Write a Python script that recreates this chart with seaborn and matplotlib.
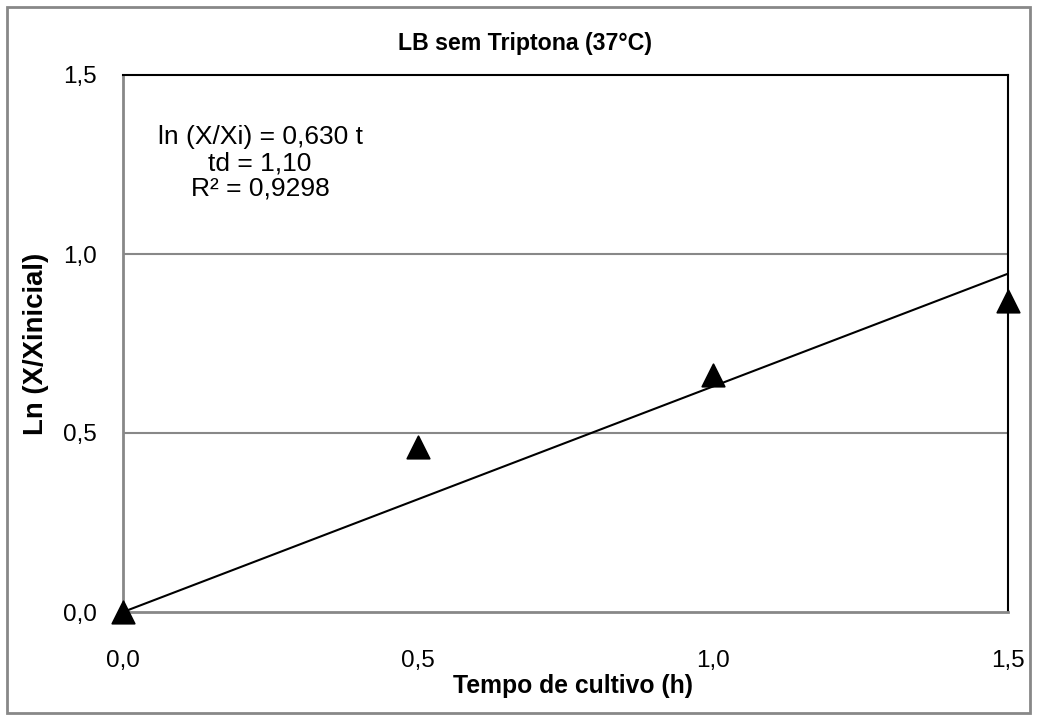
import matplotlib
matplotlib.use("Agg")
import matplotlib.pyplot as plt
import seaborn as sns
import pandas as pd
from matplotlib.patches import Rectangle

# Data
tempo = [0.0, 0.5, 1.0, 1.5]
ln_x = [0.0, 0.46, 0.662, 0.868]
slope = 0.630
trend_x = [0.0, 1.5]
trend_y = [slope * t for t in trend_x]
ticks = [0.0, 0.5, 1.0, 1.5]
tick_labels = ["0,0", "0,5", "1,0", "1,5"]

sns.set_theme(style="white")
plt.rcParams['font.family'] = ['Liberation Sans', 'DejaVu Sans']
plt.rcParams['text.color'] = 'black'
plt.rcParams['axes.labelcolor'] = 'black'

fig = plt.figure(figsize=(10.37, 7.2), dpi=100)
ax = fig.add_axes([123/1037, 1 - 612/720, (1008-123)/1037, (612-75)/720])

df = pd.DataFrame({"t": tempo, "y": ln_x})
tdf = pd.DataFrame({"t": trend_x, "y": trend_y})

sns.lineplot(data=tdf, x="t", y="y", ax=ax, color="black", linewidth=1.5, zorder=3)
sns.scatterplot(data=df, x="t", y="y", ax=ax, marker="^", s=260, color="black",
                edgecolor="black", zorder=4, clip_on=False)
for coll in ax.collections:
    coll.set_clip_on(False)

ax.set_xlim(0, 1.5)
ax.set_ylim(0, 1.5)
ax.set_xticks(ticks)
ax.set_xticklabels(tick_labels)
ax.set_yticks(ticks)
ax.set_yticklabels(tick_labels)
ax.tick_params(axis="both", labelsize=17.5, labelcolor="black", length=5, width=1.2,
               direction="out", color="#888888")
ax.tick_params(axis="y", pad=14)
ax.tick_params(axis="x", pad=22)
ax.grid(False)
for yv in [0.5, 1.0]:
    ax.axhline(yv, color="#888888", linewidth=1.5, zorder=1)

for side in ["top", "right"]:
    ax.spines[side].set_color("black")
    ax.spines[side].set_linewidth(1.5)
for side in ["left", "bottom"]:
    ax.spines[side].set_color("#888888")
    ax.spines[side].set_linewidth(2)

ax.set_xlabel("Tempo de cultivo (h)", fontsize=17.8, fontweight="bold", labelpad=0,
              color="black")
ax.xaxis.set_label_coords(0.508, -0.115)
ax.set_ylabel("Ln (X/Xinicial)", fontsize=19.8, fontweight="bold", labelpad=10,
              color="black")
ax.set_title("LB sem Triptona (37°C)", fontsize=16.7, fontweight="bold", pad=18,
             color="black", x=0.454)

ax.text(0.155, 0.836, "ln (X/Xi) = 0,630 t\ntd = 1,10\nR² = 0,9298",
        transform=ax.transAxes, ha="center", va="center", fontsize=19,
        linespacing=1.1, color="black")

fig.patches.append(Rectangle((7/1037, 7/720), (1030-7)/1037, (713-7)/720,
                             transform=fig.transFigure, fill=False,
                             edgecolor="#888888", linewidth=2))

fig.savefig("out.png", dpi=100)
